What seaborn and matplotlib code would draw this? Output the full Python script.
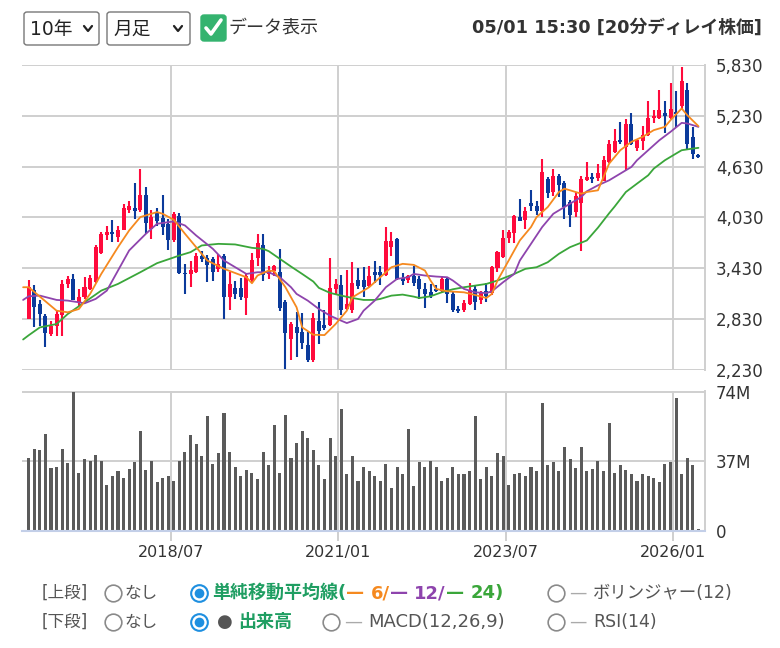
import seaborn as sns
import numpy as np
import pandas as pd
import matplotlib.pyplot as plt
from matplotlib.lines import Line2D
from matplotlib.patches import FancyBboxPatch

# monthly bars, 2016/05 .. 2026/05
months = pd.date_range('2016-05-01', periods=121, freq='MS')

opens = [2830, 3170, 3012, 2866, 2656, 2755, 2874, 3240, 3308, 3031,
         3091, 3189, 3268, 3612, 3821, 3860, 3801, 3888, 4120, 4144,
         4117, 4294, 3900, 4085, 4030, 3951, 3762, 4046, 3375, 3359,
         3387, 3580, 3552, 3545, 3426, 3572, 3091, 3197, 3201, 3079,
         3296, 3554, 3700, 3360, 3395, 3383, 3037, 2601, 2732, 2680,
         2521, 2343, 2811, 2760, 2760, 3190, 3236, 2946, 2938, 3296,
         3296, 3216, 3383, 3383, 3355, 3685, 3772, 3310, 3288, 3335,
         3307, 3188, 3145, 3184, 3168, 3307, 3129, 2950, 2938, 3010,
         3184, 3062, 3160, 3141, 3437, 3564, 3793, 3852, 4038, 3999,
         4200, 4169, 4109, 4485, 4327, 4525, 4434, 4208, 4090, 4196,
         4473, 4505, 4497, 4465, 4683, 4802, 4948, 4861, 5138, 4853,
         4932, 5000, 5209, 5209, 5264, 5209, 5276, 5344, 5533, 4980,
         4762]
highs = [3296, 3229, 3051, 2893, 2814, 2933, 3288, 3340, 3367, 3189,
         3328, 3347, 3702, 3860, 3927, 3998, 3927, 4188, 4230, 4433,
         4598, 4385, 4117, 4148, 4294, 4018, 4097, 4085, 3485, 3513,
         3612, 3640, 3584, 3564, 3604, 3604, 3387, 3276, 3316, 3375,
         3613, 3831, 3831, 3460, 3474, 3661, 3057, 2799, 2918, 2906,
         2680, 2898, 3037, 2938, 3554, 3300, 3355, 3415, 3502, 3435,
         3443, 3454, 3514, 3454, 3919, 3863, 3792, 3380, 3355, 3462,
         3343, 3256, 3244, 3236, 3335, 3327, 3157, 2990, 3057, 3256,
         3224, 3160, 3259, 3457, 3635, 3880, 3880, 4062, 4248, 4149,
         4355, 4220, 4715, 4505, 4604, 4545, 4465, 4236, 4335, 4525,
         4683, 4560, 4663, 4750, 4948, 5071, 5158, 5197, 5264, 4960,
         5106, 5407, 5300, 5533, 5407, 5612, 5525, 5802, 5620, 5098,
         4782]
lows = [2830, 2735, 2755, 2499, 2637, 2629, 2629, 3200, 3051, 2980,
        3071, 3170, 3256, 3604, 3762, 3742, 3742, 3880, 4080, 4018,
        4097, 3841, 3781, 3927, 3821, 3643, 3742, 3359, 3122, 3209,
        3375, 3500, 3268, 3280, 3387, 2834, 2933, 3071, 3051, 2881,
        3256, 3454, 3276, 3300, 3335, 2930, 2243, 2351, 2382, 2482,
        2323, 2323, 2541, 2708, 2748, 3120, 2879, 2938, 2898, 3184,
        3097, 3208, 3256, 3236, 3335, 3573, 3296, 3230, 3256, 3224,
        3065, 2958, 3077, 3150, 3145, 3018, 2918, 2900, 2918, 2998,
        2938, 3010, 3034, 3121, 3390, 3556, 3734, 3734, 3983, 3892,
        4109, 4060, 4038, 4260, 4288, 4276, 4011, 3920, 4030, 3635,
        4465, 4440, 4465, 4457, 4671, 4790, 4901, 4592, 4881, 4814,
        4821, 4988, 5150, 5197, 5027, 5197, 5098, 5316, 4830, 4723,
        4735]
closes = [3209, 2972, 2893, 2664, 2755, 2893, 3249, 3300, 3059, 3091,
          3209, 3316, 3683, 3833, 3860, 3840, 3888, 4137, 4160, 4109,
          4294, 3967, 4038, 3991, 3920, 3762, 4077, 3375, 3359, 3414,
          3572, 3540, 3466, 3387, 3485, 3091, 3249, 3122, 3091, 3335,
          3526, 3732, 3355, 3400, 3454, 2958, 2668, 2771, 2668, 2549,
          2343, 2839, 2692, 2720, 3196, 3240, 2938, 3010, 3256, 3224,
          3208, 3335, 3351, 3351, 3752, 3752, 3307, 3280, 3343, 3256,
          3184, 3129, 3105, 3168, 3307, 3129, 2938, 2930, 3026, 3176,
          3037, 3141, 3101, 3445, 3627, 3785, 3864, 4042, 3991, 4109,
          4169, 4110, 4572, 4315, 4525, 4418, 4149, 4062, 4288, 4485,
          4505, 4490, 4556, 4703, 4893, 4928, 4920, 5138, 4901, 4940,
          4999, 5209, 5230, 5304, 5225, 5316, 5249, 5644, 4901, 4774,
          4750]
# volume in millions of shares
volumes = [38.8, 43.7, 43.0, 51.8, 33.2, 33.9, 43.7, 36.0, 74.0, 30.7,
           38.1, 37.2, 40.4, 37.2, 24.2, 29.1, 31.6, 28.3, 33.0, 36.5,
           53.4, 32.3, 37.2, 25.8, 28.3, 29.1, 26.7, 37.2, 42.1, 51.1,
           46.2, 40.0, 61.0, 35.7, 41.5, 62.5, 42.1, 33.9, 29.1, 32.3,
           30.9, 27.4, 42.1, 35.0, 56.1, 30.9, 61.7, 38.8, 46.9, 52.9,
           49.5, 43.0, 34.8, 27.4, 49.5, 40.0, 64.8, 30.0, 39.7, 26.7,
           33.9, 31.6, 29.1, 26.7, 35.6, 22.6, 33.9, 30.0, 54.3, 23.5,
           36.5, 33.9, 37.2, 33.9, 26.7, 28.3, 33.9, 30.0, 30.0, 31.6,
           61.0, 27.4, 33.9, 29.1, 41.3, 39.7, 24.2, 30.0, 30.7, 29.1,
           33.9, 32.0, 68.0, 34.8, 36.5, 31.6, 44.6, 38.1, 33.2, 44.6,
           31.6, 33.0, 37.2, 31.6, 57.6, 30.7, 34.8, 32.3, 30.0, 26.7,
           30.0, 29.1, 28.0, 25.8, 35.7, 36.6, 70.6, 30.0, 38.8, 34.8,
           0.9]

# moving averages (month position, value)
ma6_pos = [-1, 0, 5, 7, 9, 11, 13, 16, 18, 20, 23, 24, 26, 28, 30, 32, 35, 39, 40, 41,
           43, 44, 46, 48, 49, 51, 53, 55, 57, 58, 61, 63, 65, 67, 69, 71, 72, 73, 75, 78,
           80, 82, 83, 84, 86, 88, 90, 91, 93, 95, 96, 97, 99, 100, 102, 103, 104, 106, 108, 110,
           112, 114, 115, 117, 118, 120]
ma6_val = [3207, 3207, 2930, 2911, 2950, 3128, 3364, 3680, 3877, 4035, 4094, 4074, 4003, 3838, 3680, 3522, 3424, 3325, 3254, 3345,
           3404, 3396, 3207, 2970, 2733, 2646, 2642, 2773, 2930, 3088, 3207, 3325, 3443, 3483, 3471, 3404, 3286, 3187, 3159, 3147,
           3115, 3080, 3128, 3286, 3522, 3759, 3917, 4035, 4153, 4331, 4370, 4351, 4311, 4331, 4351, 4508, 4666, 4824, 4923, 4982,
           5061, 5100, 5179, 5317, 5238, 5108]
ma12_pos = [-1, 0, 2, 5, 7, 9, 10, 12, 14, 16, 18, 21, 23, 26, 28, 30, 33, 35, 38, 39,
            41, 43, 45, 47, 48, 50, 52, 54, 56, 57, 59, 60, 62, 64, 66, 68, 69, 71, 73, 75,
            76, 78, 80, 82, 83, 85, 87, 88, 90, 92, 94, 95, 97, 99, 100, 102, 104, 106, 108, 109,
            111, 113, 115, 117, 118, 120]
ma12_val = [3057, 3100, 3108, 3057, 3049, 3029, 3017, 3069, 3167, 3404, 3641, 3838, 3956, 3984, 3936, 3818, 3660, 3522, 3404, 3364,
            3384, 3384, 3325, 3207, 3128, 3049, 2950, 2871, 2812, 2784, 2832, 2930, 3049, 3207, 3305, 3325, 3364, 3345, 3333, 3325,
            3286, 3187, 3147, 3138, 3159, 3266, 3364, 3522, 3719, 3917, 4074, 4114, 4193, 4272, 4339, 4410, 4469, 4548, 4627, 4706,
            4824, 4942, 5041, 5147, 5140, 5100]
ma24_pos = [-1, 0, 2, 5, 7, 10, 13, 16, 20, 23, 27, 29, 31, 34, 37, 40, 42, 43, 45, 47,
            49, 51, 52, 54, 56, 58, 60, 62, 63, 65, 67, 69, 70, 72, 74, 76, 78, 80, 82, 84,
            87, 89, 91, 93, 95, 97, 100, 102, 104, 105, 107, 109, 111, 112, 114, 116, 117, 119, 120]
ma24_val = [2590, 2640, 2733, 2773, 2891, 3029, 3167, 3246, 3384, 3491, 3581, 3621, 3700, 3719, 3712, 3672, 3660, 3633, 3542, 3451,
            3364, 3274, 3199, 3140, 3108, 3080, 3057, 3057, 3069, 3108, 3120, 3096, 3080, 3100, 3147, 3183, 3207, 3226, 3246, 3286,
            3364, 3424, 3443, 3502, 3601, 3680, 3759, 3910, 4080, 4160, 4331, 4430, 4528, 4607, 4706, 4785, 4824, 4844, 4852]

tick_months = ['2018/07', '2021/01', '2023/07', '2026/01']
price_ticks = [2230, 2830, 3430, 4030, 4630, 5230, 5830]
vol_ticks = [0, 37, 74]
vol_labels = ['0', '37M', '74M']

UP = '#ff0a3c'
DOWN = '#0b3a9b'
ORANGE = '#f5891f'
PURPLE = '#8e44ad'
GREEN = '#3aa63a'
VOL = '#5a5a5a'
GRID = '#cfcfcf'
TEAL = '#1f9e62'
TXT = '#333333'
GRAY = '#555555'

W, H = 780, 648


def fx(x):
    return x / W


def fy(y):
    return 1 - y / H


sns.set_theme(style='white')
plt.rcParams['font.family'] = ['DejaVu Sans', 'Noto Sans CJK JP']

fig = plt.figure(figsize=(W / 100, H / 100), dpi=100)
ax = fig.add_axes([fx(22), fy(370), fx(705) - fx(22), fy(65) - fy(370)])
axv = fig.add_axes([fx(22), fy(530.5), fx(705) - fx(22), fy(391) - fy(530.5)])

df = pd.DataFrame({'month': months, 'open': opens, 'high': highs,
                   'low': lows, 'close': closes, 'volume': volumes})
df['pos'] = np.arange(len(df))
df['color'] = np.where(df['close'] >= df['open'], UP, DOWN)
df['body_lo'] = df[['open', 'close']].min(axis=1)
df['body_h'] = (df['close'] - df['open']).abs().clip(lower=16)

# candles
ax.vlines(df['pos'], df['low'], df['high'], colors=df['color'], lw=1.5, zorder=2)
ax.bar(df['pos'], df['body_h'], bottom=df['body_lo'], width=0.72,
       color=df['color'], linewidth=0, zorder=3)

for pos, val, col in [(ma24_pos, ma24_val, GREEN), (ma12_pos, ma12_val, PURPLE),
                      (ma6_pos, ma6_val, ORANGE)]:
    sns.lineplot(x=pos, y=val, color=col, lw=1.3, ax=ax, zorder=4)

# volume
sns.barplot(data=df, x='pos', y='volume', native_scale=True, color=VOL,
            width=0.55, errorbar=None, saturation=1, linewidth=0, ax=axv)

tick_pos = [months.get_loc(pd.Timestamp(m.replace('/', '-') + '-01')) - 0.5
            for m in tick_months]

for a in (ax, axv):
    a.set_xlim(-1.2, 121.18)
    a.set_xticks(tick_pos)
    a.grid(True, color=GRID, lw=1.4)
    a.set_axisbelow(True)
    for s in a.spines.values():
        s.set_visible(False)
    a.spines['right'].set_visible(True)
    a.spines['right'].set_color(GRID)
    a.spines['right'].set_linewidth(1.4)
    a.yaxis.tick_right()
    a.tick_params(axis='y', length=0, pad=8, labelsize=12, labelcolor=TXT)
    a.set_xlabel('')
    a.set_ylabel('')

ax.set_ylim(2230, 5830)
ax.set_yticks(price_ticks)
ax.set_yticklabels([f'{v:,}' for v in price_ticks])
ax.set_xticklabels([])
ax.tick_params(axis='x', length=0)

axv.set_ylim(0, 74.5)
axv.set_yticks(vol_ticks)
axv.set_yticklabels(vol_labels)
axv.set_xticklabels(tick_months)
axv.spines['bottom'].set_visible(True)
axv.spines['bottom'].set_color('#c3cfe8')
axv.spines['bottom'].set_linewidth(1.5)
axv.tick_params(axis='x', bottom=True, length=7.5, width=1.4, color=GRID,
                direction='out', labelsize=11.5, labelcolor=TXT, pad=3)


# header controls
def box(x0, y0, x1, y1, fc, ec):
    fig.add_artist(FancyBboxPatch((fx(x0), fy(y1)), fx(x1) - fx(x0), fy(y0) - fy(y1),
                                  boxstyle='round,pad=0,rounding_size=0.004',
                                  fc=fc, ec=ec, lw=1, transform=fig.transFigure))


def poly(pts, color, lw):
    fig.add_artist(Line2D([fx(p[0]) for p in pts], [fy(p[1]) for p in pts],
                          color=color, lw=lw, transform=fig.transFigure,
                          solid_capstyle='round', solid_joinstyle='round'))


box(24, 12, 99, 45, 'white', '#777777')
fig.text(fx(30), fy(29), '10年', fontsize=13.5, color='#222222', va='center')
poly([(84, 26), (88, 31), (92, 26)], '#222222', 1.6)
box(107, 12, 190, 45, 'white', '#777777')
fig.text(fx(113), fy(29), '月足', fontsize=13.5, color='#222222', va='center')
poly([(174, 26), (178, 31), (182, 26)], '#222222', 1.6)
box(201, 15, 226, 41, '#34b36f', '#34b36f')
poly([(206, 28), (211, 34), (221, 20)], 'white', 2.6)
fig.text(fx(228), fy(28), 'データ表示', fontsize=13, color=TXT, va='center')
fig.text(fx(762), fy(28), '05/01 15:30 [20分ディレイ株価]', fontsize=12.8,
         fontweight='bold', color=TXT, va='center', ha='right')

# bottom selector rows
renderer = fig.canvas.get_renderer()


def chain(x, y, pieces, size=12.5):
    for s, col, wt in pieces:
        t = fig.text(fx(x), fy(y), s, color=col, fontsize=size, fontweight=wt,
                     va='center', ha='left')
        x += t.get_window_extent(renderer).width
    return x


def radio(x, y, on=False):
    if on:
        fig.add_artist(Line2D([fx(x)], [fy(y)], marker='o', ms=12, mfc='white',
                              mec='#1e8fe0', mew=1.5, transform=fig.transFigure))
        fig.add_artist(Line2D([fx(x)], [fy(y)], marker='o', ms=7, mfc='#1e8fe0',
                              mec='#1e8fe0', mew=0, transform=fig.transFigure))
    else:
        fig.add_artist(Line2D([fx(x)], [fy(y)], marker='o', ms=12, mfc='white',
                              mec='#8a8a8a', mew=1.2, transform=fig.transFigure))


for y, label in [(593, '[上段]'), (622, '[下段]')]:
    fig.text(fx(42), fy(y), label, fontsize=12, color=GRAY, va='center')
    radio(113, y)
    fig.text(fx(124), fy(y), 'なし', fontsize=12, color=GRAY, va='center')
    radio(199, y, on=True)

chain(212, 593, [('単純移動平均線(', TEAL, 'bold'), ('— ', ORANGE, 'bold'), ('6/', ORANGE, 'bold'),
                 ('— ', PURPLE, 'bold'), ('12/', PURPLE, 'bold'),
                 ('— ', GREEN, 'bold'), ('24)', GREEN, 'bold')], size=13)
radio(556, 593)
chain(570, 593, [('— ', '#aaaaaa', 'normal'), ('ボリンジャー(12)', GRAY, 'normal')])

chain(217, 622, [('● ', '#555555', 'normal'), ('出来高', TEAL, 'bold')], size=13)
radio(331, 622)
chain(345, 622, [('— ', '#aaaaaa', 'normal'), ('MACD(12,26,9)', GRAY, 'normal')], size=13)
radio(556, 622)
chain(570, 622, [('— ', '#aaaaaa', 'normal'), ('RSI(14)', GRAY, 'normal')])

fig.savefig('out.png', dpi=100)
